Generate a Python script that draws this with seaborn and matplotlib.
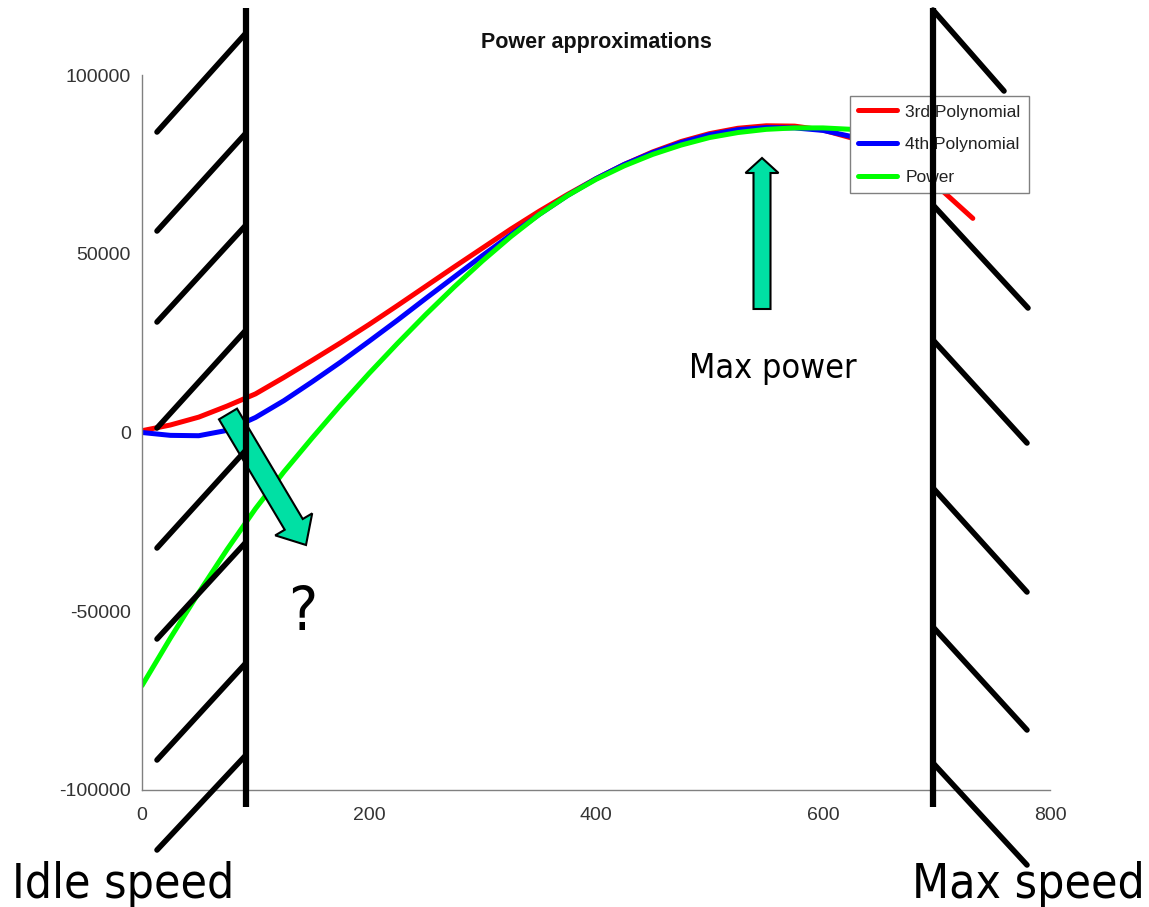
import numpy as np
import seaborn as sns
import matplotlib.pyplot as plt
from matplotlib.patches import Polygon

# values
speed_poly3 = [0, 25, 50, 75, 100, 125, 150, 175, 200, 225, 250, 275, 300, 325, 350, 375,
               400, 425, 450, 475, 500, 525, 550, 575, 600, 625, 650, 675, 700, 732]
power_poly3 = [500, 2100, 4300, 7400, 10800, 15400, 20200, 25100, 30200, 35500, 40900, 46300,
               51600, 56900, 61900, 66600, 71000, 75000, 78500, 81400, 83600, 85100, 85800,
               85700, 84600, 82400, 79200, 74700, 69100, 59900]

speed_poly4 = [0, 25, 50, 75, 100, 125, 150, 175, 200, 225, 250, 275, 300, 325, 350, 375,
               400, 425, 450, 475, 500, 525, 550, 575, 600, 625, 650, 670, 690]
power_poly4 = [0, -800, -900, 600, 4200, 8900, 14200, 19700, 25500, 31400, 37500, 43500,
               49500, 55300, 61000, 66300, 71000, 75000, 78300, 81100, 83300, 84700, 85300,
               85200, 84500, 82800, 80500, 78100, 75000]

speed_power = [0, 25, 50, 75, 100, 125, 150, 175, 200, 225, 250, 275, 300, 325, 350, 375,
               400, 425, 450, 475, 500, 525, 550, 575, 600, 625, 650, 675, 700]
power_power = [-70800, -57500, -44800, -32700, -21300, -11000, -1500, 7700, 16500, 24900,
               33000, 40700, 48000, 54800, 61000, 66300, 70800, 74600, 77800, 80400, 82500,
               83900, 84800, 85200, 85200, 84800, 84000, 82700, 81000]

series_labels = ['3rd Polynomial', '4th Polynomial', 'Power']
series_colors = ['#ff0000', '#0000ff', '#00ff00']

x_ticks = [0, 200, 400, 600, 800]
y_ticks = [-100000, -50000, 0, 50000, 100000]

title = 'Power approximations'


def block_arrow(ax, tail, tip, shaft_w, head_w, head_l, **kw):
    tail = np.array(tail, float)
    tip = np.array(tip, float)
    d = tip - tail
    u = d / np.hypot(*d)
    n = np.array([-u[1], u[0]])
    base = tip - u * head_l
    pts = [tail + n * shaft_w / 2, base + n * shaft_w / 2, base + n * head_w / 2, tip,
           base - n * head_w / 2, base - n * shaft_w / 2, tail - n * shaft_w / 2]
    ax.add_patch(Polygon(pts, closed=True, **kw))


sns.set_theme(style='white')
plt.rcParams['font.family'] = ['Liberation Sans', 'DejaVu Sans']

W, H = 1149, 907
fig = plt.figure(figsize=(W / 100, H / 100), dpi=100)
fig.patch.set_facecolor('white')

ax = fig.add_axes([142 / W, (H - 790) / H, 908 / W, 715 / H])
for xs, ys, lab, col in zip([speed_poly3, speed_poly4, speed_power],
                            [power_poly3, power_poly4, power_power],
                            series_labels, series_colors):
    sns.lineplot(x=xs, y=ys, ax=ax, color=col, label=lab, linewidth=3.6,
                 estimator=None, sort=False)

ax.set_xlim(0, 800)
ax.set_ylim(-100000, 100000)
ax.set_xticks(x_ticks)
ax.set_yticks(y_ticks)
ax.set_xticklabels([str(t) for t in x_ticks])
ax.set_yticklabels([str(t) for t in y_ticks])
ax.set_xlabel('')
ax.set_ylabel('')
ax.tick_params(direction='in', length=6, width=1, color='#808080',
               labelsize=14, labelcolor='#333333')
ax.tick_params(axis='x', pad=12)
ax.tick_params(axis='y', pad=8)
for side in ['top', 'right']:
    ax.spines[side].set_visible(False)
for side in ['left', 'bottom']:
    ax.spines[side].set_color('#808080')
    ax.spines[side].set_linewidth(1)
ax.set_title(title, fontsize=15.5, fontweight='bold', color='#111111', pad=19.5)

leg = ax.legend(loc='upper right', bbox_to_anchor=(0.977, 0.971), borderaxespad=0,
                frameon=True, fancybox=False, edgecolor='#808080', framealpha=1,
                fontsize=12.5, handlelength=2.2, handletextpad=0.5,
                labelspacing=1.0, borderpad=0.5)
leg.get_frame().set_linewidth(1)
for t in leg.get_texts():
    t.set_color('#222222')

# slide overlay drawn in pixel coordinates
ov = fig.add_axes([0, 0, 1, 1], zorder=10)
ov.set_xlim(0, W)
ov.set_ylim(H, 0)
ov.axis('off')
ov.patch.set_alpha(0)

arrow_kw = dict(facecolor='#00e0a4', edgecolor='black', linewidth=1.5)
block_arrow(ov, (762, 309), (762, 158), 17, 33, 15, **arrow_kw)
block_arrow(ov, (228, 414), (306, 545), 21, 43, 24, **arrow_kw)

walls = [((246, 8), (246, 807)), ((933, 8), (933, 807))]
for (x0, y0), (x1, y1) in walls:
    ov.plot([x0, x1], [y0, y1], color='black', linewidth=4.5, solid_capstyle='butt')

left_top = [33, 133, 225, 330, 450, 542, 663, 755]
left_bot = [132, 231, 322, 428, 548, 639, 760, 850]
for yt, yb in zip(left_top, left_bot):
    ov.plot([157, 246], [yb, yt], color='black', linewidth=4)

right_hatch = [((933, 10), (1004, 91)), ((933, 205), (1028, 308)), ((933, 340), (1027, 443)),
               ((933, 488), (1027, 592)), ((933, 627), (1027, 730)), ((933, 763), (1027, 865))]
for (x0, y0), (x1, y1) in right_hatch:
    ov.plot([x0, x1], [y0, y1], color='black', linewidth=4)

note_kw = dict(family='DejaVu Sans', fontstretch='condensed', color='black', va='baseline')
ov.text(12, 898, 'Idle speed', ha='left', fontsize=34.5, **note_kw)
ov.text(1145, 898, 'Max speed', ha='right', fontsize=34.5, **note_kw)
ov.text(773, 378, 'Max power', ha='center', fontsize=24.5, **note_kw)
ov.text(303, 630, '?', ha='center', fontsize=44, **note_kw)

fig.savefig('out.png', dpi=100)
